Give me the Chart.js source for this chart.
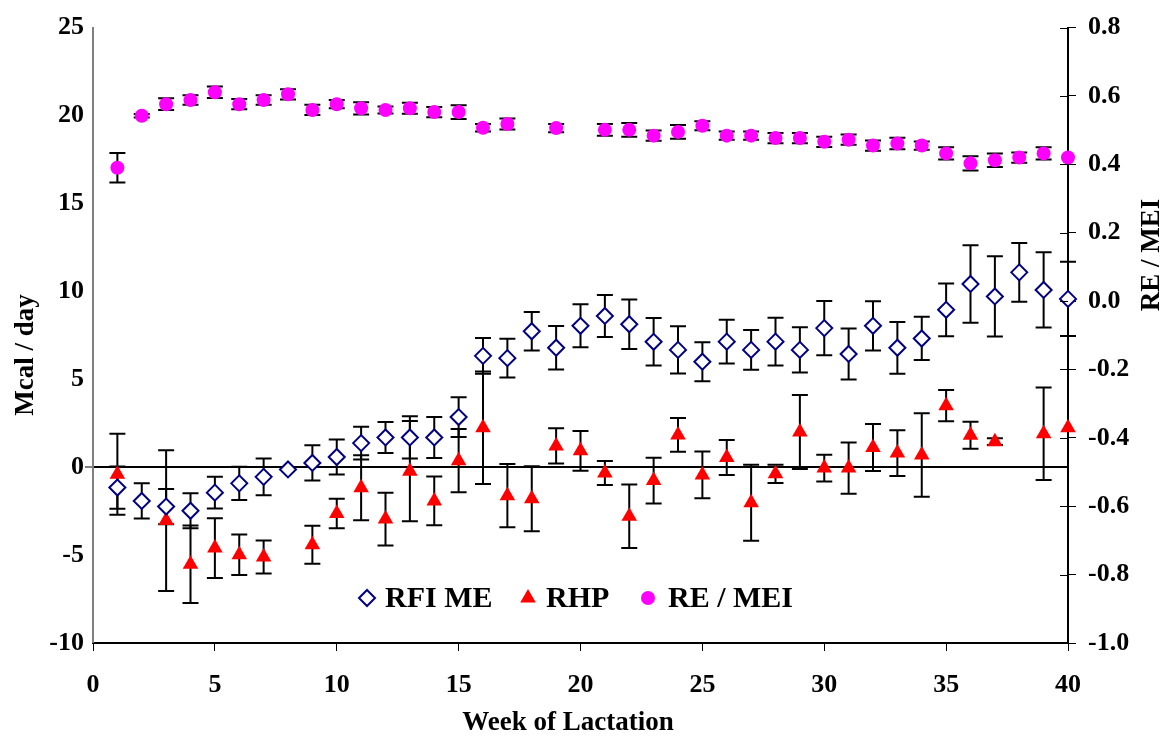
<!DOCTYPE html>
<html><head><meta charset="utf-8">
<script src="https://cdn.jsdelivr.net/npm/chart.js@4.4.1/dist/chart.umd.min.js"></script>
<style>html,body{margin:0;padding:0;background:#fff}canvas{display:block}</style>
</head><body>
<canvas id="c" width="1173" height="740"></canvas>
<script>
// ---- data ----
const weeks = [1,2,3,4,5,6,7,8,9,10,11,12,13,14,15,16,17,18,19,20,21,22,23,24,25,26,27,28,29,30,31,32,33,34,35,36,37,38,39,40];
const rfiMe    = [-1.16,-1.92,-2.24,-2.48,-1.45,-0.92,-0.55,-0.13,0.24,0.58,1.37,1.69,1.69,1.69,2.85,6.33,6.2,7.73,6.79,8.04,8.6,8.13,7.13,6.67,6.0,7.14,6.67,7.14,6.67,7.91,6.44,8.04,6.79,7.32,8.95,10.42,9.71,11.08,10.08,9.57];
const rfiMeErr = [1.2,1.0,1.0,1.0,0.9,0.95,1.05,0,1.0,0.99,0.93,0.88,1.2,1.17,1.13,1.02,1.1,1.1,1.24,1.22,1.19,1.41,1.35,1.34,1.11,1.24,1.13,1.36,1.29,1.54,1.45,1.4,1.47,1.23,1.5,2.2,2.28,1.67,2.14,2.11];
const rhp      = [-0.4,null,-3.04,-5.52,-4.6,-4.98,-5.11,null,-4.41,-2.63,-1.17,-2.95,-0.23,-1.92,0.37,2.24,-1.62,-1.8,1.21,0.93,-0.33,-2.79,-0.76,1.83,-0.44,0.55,-2.02,-0.38,2.0,-0.05,-0.05,1.12,0.8,0.69,3.5,1.82,1.45,null,1.9,2.24];
const rhpErr   = [2.3,0,4.0,2.2,1.7,1.15,0.94,0,1.08,0.84,1.85,1.5,2.85,1.39,1.8,3.2,1.8,1.85,1.0,1.13,0.68,1.8,1.3,0.96,1.33,0.99,2.16,0.52,2.11,0.76,1.46,1.34,1.3,2.37,0.89,0.77,0.19,0,2.63,0];
const reMei    = [0.390,0.542,0.576,0.588,0.611,0.576,0.588,0.605,0.559,0.576,0.564,0.559,0.564,0.553,0.553,0.507,0.518,null,0.506,null,0.501,0.501,0.484,0.495,0.513,0.484,0.484,0.477,0.477,0.466,0.472,0.455,0.461,0.455,0.432,0.403,0.412,0.420,0.432,0.420];
const reMeiErr = [0.043,0.005,0.017,0.014,0.017,0.015,0.014,0.015,0.015,0.012,0.018,0.01,0.016,0.015,0.02,0.011,0.016,0,0.012,0,0.017,0.02,0.015,0.02,0.013,0.012,0.012,0.015,0.015,0.015,0.015,0.015,0.017,0.012,0.018,0.021,0.02,0.015,0.018,0];
const xRange = [0, 40, 5];
const leftRange = [-10, 25, 5];
const rightRange = [-1.0, 0.8, 0.2];
const seriesNames = ['RFI ME', 'RHP', 'RE / MEI'];
const axisTitles = ['Mcal / day', 'RE / MEI', 'Week of Lactation'];

const FONT = "'Liberation Serif','Times New Roman',serif";

function pts(vals, errs) {
  const out = [];
  weeks.forEach((w, i) => { if (vals[i] !== null) out.push({x: w, y: vals[i], err: errs[i]}); });
  return out;
}

const errorBars = {
  id: 'errorBars',
  beforeDatasetsDraw(chart) {
    const ctx = chart.ctx;
    ctx.save();
    ctx.strokeStyle = '#000';
    ctx.lineWidth = 2;
    chart.data.datasets.forEach(ds => {
      const xs = chart.scales.x, ys = chart.scales[ds.yAxisID];
      ds.data.forEach(p => {
        if (!p.err) return;
        const x = xs.getPixelForValue(p.x);
        const y1 = ys.getPixelForValue(p.y + p.err);
        const y2 = ys.getPixelForValue(p.y - p.err);
        ctx.beginPath();
        ctx.moveTo(x, y1); ctx.lineTo(x, y2);
        ctx.moveTo(x - 8, y1); ctx.lineTo(x + 8, y1);
        ctx.moveTo(x - 8, y2); ctx.lineTo(x + 8, y2);
        ctx.stroke();
      });
    });
    ctx.restore();
  }
};

function marker(ctx, style, x, y) {
  ctx.save();
  ctx.beginPath();
  if (style === 'diamond') {
    ctx.moveTo(x - 8, y); ctx.lineTo(x, y - 8); ctx.lineTo(x + 8, y); ctx.lineTo(x, y + 8); ctx.closePath();
    ctx.fillStyle = '#fff'; ctx.fill(); ctx.strokeStyle = '#000080'; ctx.lineWidth = 2; ctx.stroke();
  } else if (style === 'tri') {
    const r = 9;
    ctx.moveTo(x, y - r); ctx.lineTo(x + r * 0.866, y + r / 2); ctx.lineTo(x - r * 0.866, y + r / 2); ctx.closePath();
    ctx.fillStyle = '#ff0000'; ctx.fill();
  } else {
    ctx.arc(x, y, 7, 0, Math.PI * 2);
    ctx.fillStyle = '#ff00ff'; ctx.fill();
  }
  ctx.restore();
}

const extras = {
  id: 'extras',
  afterDraw(chart) {
    const ctx = chart.ctx, ca = chart.chartArea;
    ctx.save();
    // inner ticks of right axis
    const y2 = chart.scales.y2;
    ctx.strokeStyle = '#000'; ctx.lineWidth = 1;
    y2.ticks.forEach(t => {
      const y = Math.round(y2.getPixelForValue(t.value)) + 0.5;
      ctx.beginPath(); ctx.moveTo(ca.right - 8, y); ctx.lineTo(ca.right, y); ctx.stroke();
    });
    // legend
    const ly = 598;
    ctx.fillStyle = '#000';
    ctx.font = 'bold 30px ' + FONT;
    ctx.textBaseline = 'middle';
    ctx.textAlign = 'left';
    const items = [['diamond', 367, 385], ['tri', 528, 546], ['circ', 648, 668]];
    items.forEach((it, i) => {
      marker(ctx, it[0], it[1], ly);
      ctx.fillStyle = '#000';
      ctx.fillText(seriesNames[i], it[2], ly + 1);
    });
    // axis titles
    ctx.font = 'bold 27px ' + FONT;
    ctx.textAlign = 'center';
    ctx.save(); ctx.translate(26, 355); ctx.rotate(-Math.PI / 2); ctx.fillText(axisTitles[0], 0, 0); ctx.restore();
    ctx.save(); ctx.translate(1152, 255); ctx.rotate(-Math.PI / 2); ctx.fillText(axisTitles[1], 0, 0); ctx.restore();
    ctx.fillText(axisTitles[2], 568, 723);
    ctx.restore();
  }
};

const tickFont = {family: FONT, weight: 'bold', size: 26};

new Chart(document.getElementById('c'), {
  type: 'scatter',
  data: {
    datasets: [
      {label: seriesNames[0], data: pts(rfiMe, rfiMeErr), yAxisID: 'y', pointStyle: 'rectRot', pointRadius: 8, pointBorderWidth: 2,
       borderColor: '#000080', backgroundColor: '#ffffff', clip: false, showLine: false},
      {label: seriesNames[1], data: pts(rhp, rhpErr), yAxisID: 'y', pointStyle: 'triangle', pointRadius: 9, pointBorderWidth: 0,
       borderColor: '#ff0000', backgroundColor: '#ff0000', clip: false, showLine: false},
      {label: seriesNames[2], data: pts(reMei, reMeiErr), yAxisID: 'y2', pointStyle: 'circle', pointRadius: 7, pointBorderWidth: 0,
       borderColor: '#ff00ff', backgroundColor: '#ff00ff', clip: false, showLine: false}
    ]
  },
  options: {
    responsive: false,
    animation: false,
    devicePixelRatio: 1,
    layout: {padding: {top: 22, left: 0, right: 0, bottom: 0}},
    plugins: {legend: {display: false}, tooltip: {enabled: false}},
    scales: {
      x: {
        type: 'linear', min: xRange[0], max: xRange[1],
        ticks: {stepSize: xRange[2], font: tickFont, color: '#000', padding: 19, maxRotation: 0},
        grid: {drawOnChartArea: false, tickLength: 8, tickColor: '#000', lineWidth: 1},
        border: {color: '#000', width: 2},
        afterFit: s => { s.height = 97; }
      },
      y: {
        type: 'linear', position: 'left', min: leftRange[0], max: leftRange[1],
        ticks: {stepSize: leftRange[2], font: tickFont, color: '#000', padding: 1},
        grid: {tickLength: 8, tickColor: '#808080',
               color: c => (c.tick && c.tick.value === 0) ? '#000' : 'rgba(0,0,0,0)',
               lineWidth: c => (c.tick && c.tick.value === 0) ? 2 : 0},
        border: {color: '#808080', width: 2},
        afterFit: s => { s.width = 93; }
      },
      y2: {
        type: 'linear', position: 'right', min: rightRange[0], max: rightRange[1],
        ticks: {stepSize: rightRange[2], font: tickFont, color: '#000', padding: 12, callback: v => v.toFixed(1)},
        grid: {drawOnChartArea: false, tickLength: 8, tickColor: '#000'},
        border: {color: '#000', width: 2},
        afterFit: s => { s.width = 105; }
      }
    }
  },
  plugins: [errorBars, extras]
});
</script>
</body></html>
